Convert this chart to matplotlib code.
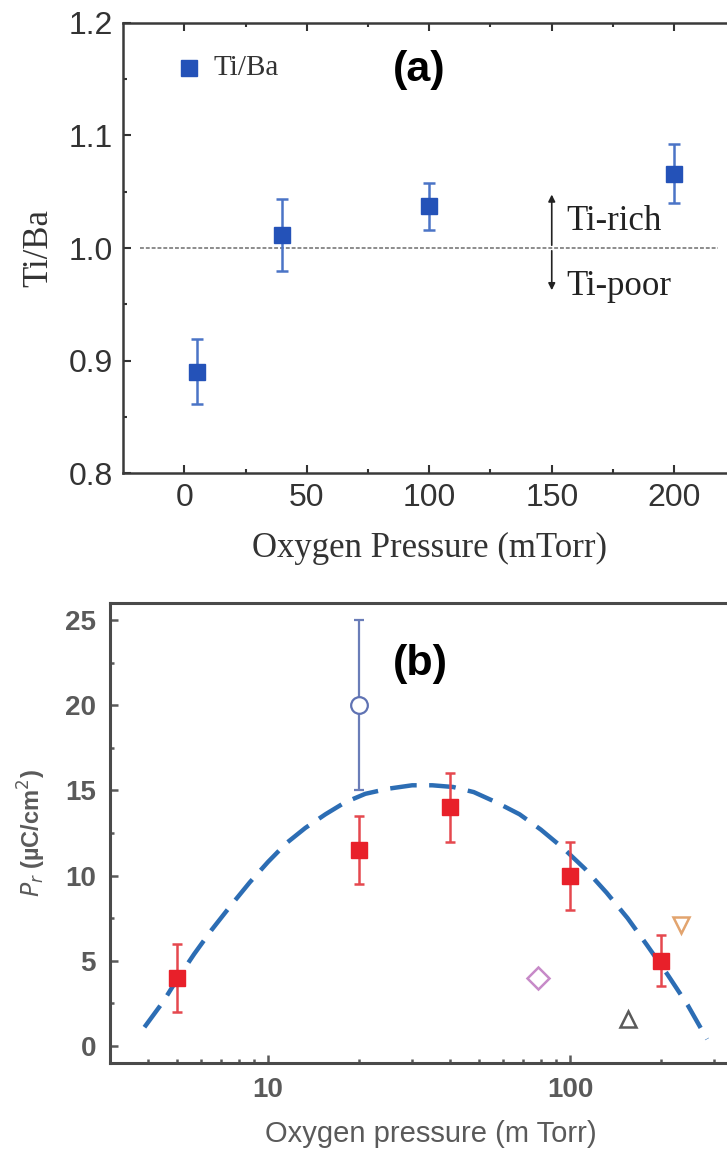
import matplotlib.pyplot as plt

# (a) Ti/Ba ratio vs oxygen pressure
tiba_pressure = [5, 40, 100, 200]
tiba_ratio = [0.890, 1.012, 1.037, 1.066]
tiba_err = [0.029, 0.032, 0.021, 0.026]

# (b) remanent polarization vs oxygen pressure
pr_pressure = [5, 20, 40, 100, 200]
pr_value = [4.0, 11.5, 14.0, 10.0, 5.0]
pr_err = [2.0, 2.0, 2.0, 2.0, 1.5]

lit_circle = (20, 20.0, 5.0)
lit_diamond = (78, 4.0)
lit_triangle_up = (155, 1.6)
lit_triangle_down = (233, 7.1)

# dashed guide curve, read along its length
fit_x = [3.9, 4.5, 5, 5.7, 6.5, 7.5, 8.7, 10, 11.5, 13.3, 15.5, 18, 21, 25, 30, 35,
         41, 48, 57, 68, 80, 95, 112, 132, 155, 180, 210, 245, 284]
fit_y = [1.1, 2.6, 3.9, 5.4, 6.8, 8.2, 9.6, 10.8, 11.9, 12.8, 13.6, 14.3, 14.8,
         15.1, 15.3, 15.3, 15.2, 14.9, 14.3, 13.6, 12.7, 11.6, 10.4, 9.0, 7.5,
         5.9, 4.2, 2.4, 0.4]

W, H = 727, 1151
fig = plt.figure(figsize=(W / 100, H / 100), dpi=100)

serif = ["Liberation Serif", "DejaVu Serif"]
sans = ["Liberation Sans", "DejaVu Sans"]

# ---------------- panel (a) ----------------
ax1 = fig.add_axes([123 / W, 1 - 473 / H, 612.5 / W, 450 / H])
ax1.set_xlim(-25, 225)
ax1.set_ylim(0.8, 1.2)
ax1.set_xticks([0, 50, 100, 150, 200])
ax1.set_xticks([25, 75, 125, 175], minor=True)
ax1.set_yticks([0.8, 0.9, 1.0, 1.1, 1.2])
ax1.set_yticks([0.85, 0.95, 1.05, 1.15], minor=True)
ax1.set_yticklabels(["0.8", "0.9", "1.0", "1.1", "1.2"])
ax1.tick_params(which="both", direction="in", top=True, right=False,
                labelsize=23, colors="#333333", width=1.5, pad=7)
ax1.tick_params(which="major", length=6)
ax1.tick_params(which="minor", length=3)
for lab in ax1.get_xticklabels() + ax1.get_yticklabels():
    lab.set_family(sans)
for side in ("left", "bottom", "top"):
    ax1.spines[side].set_linewidth(1.8)
    ax1.spines[side].set_color("#3a3a3a")
ax1.spines["right"].set_visible(False)

ax1.plot([-18, 218], [1.0, 1.0], color="#8c8c8c", lw=1.4, ls=(0, (2, 1)), zorder=1)
ax1.errorbar(tiba_pressure, tiba_ratio, yerr=tiba_err, fmt="s", color="#2452b8",
             ecolor="#4b74c6", elinewidth=1.8, capsize=4, capthick=1.8,
             markersize=12, zorder=3)
ax1.plot([2], [1.16], "s", color="#2452b8", markersize=11)
ax1.text(12, 1.16, "Ti/Ba", family=serif, fontsize=21, color="#333333",
         va="center", ha="left")
ax1.text(96, 1.158, "(a)", family=sans, fontsize=31, fontweight="bold",
         ha="center", va="center")

ax1.annotate("", xy=(150, 1.05), xytext=(150, 1.0),
             arrowprops=dict(arrowstyle="-|>", color="#222222", lw=1.2,
                             mutation_scale=10))
ax1.annotate("", xy=(150, 0.96), xytext=(150, 1.0),
             arrowprops=dict(arrowstyle="-|>", color="#222222", lw=1.2,
                             mutation_scale=10))
ax1.text(156, 1.024, "Ti-rich", family=serif, fontsize=25, color="#222222",
         va="center", ha="left")
ax1.text(156, 0.966, "Ti-poor", family=serif, fontsize=25, color="#222222",
         va="center", ha="left")

ax1.set_xlabel("Oxygen Pressure (mTorr)", family=serif, fontsize=25,
               color="#333333", labelpad=14)
ax1.set_ylabel("Ti/Ba", family=serif, fontsize=25, color="#333333", labelpad=10)

# ---------------- panel (b) ----------------
ax2 = fig.add_axes([110 / W, 1 - 1063 / H, 642 / W, 460 / H])
ax2.set_xscale("log")
ax2.set_xlim(3, 400)
ax2.set_ylim(-1, 26)
ax2.set_yticks([0, 5, 10, 15, 20, 25])
ax2.set_yticks([2.5, 7.5, 12.5, 17.5, 22.5], minor=True)
ax2.set_xticks([10, 100])
ax2.set_xticklabels(["10", "100"])
ax2.tick_params(which="both", direction="in", top=False, right=False,
                labelsize=20, colors="#5a5a5a", width=1.8, pad=10)
ax2.tick_params(which="major", length=6)
ax2.tick_params(which="minor", length=3)
for lab in ax2.get_xticklabels() + ax2.get_yticklabels():
    lab.set_family(sans)
    lab.set_fontweight("bold")
for side in ("left", "bottom", "top"):
    ax2.spines[side].set_linewidth(2.2)
    ax2.spines[side].set_color("#4a4a4a")
ax2.spines["right"].set_visible(False)

ax2.plot(fit_x, fit_y, color="#2c6db4", lw=3.2, ls=(0, (6, 2.8)), zorder=2)
ax2.errorbar(pr_pressure, pr_value, yerr=pr_err, fmt="s", color="#e8202a",
             ecolor="#e5484e", elinewidth=1.8, capsize=3.5, capthick=1.8,
             markersize=11.5, zorder=3)
ax2.errorbar([lit_circle[0]], [lit_circle[1]], yerr=[lit_circle[2]], fmt="o",
             mfc="white", mec="#5f72b3", mew=1.6, ecolor="#6a7db8",
             elinewidth=1.6, capsize=3.5, capthick=1.6, markersize=12, zorder=3)
ax2.plot([lit_diamond[0]], [lit_diamond[1]], "D", mfc="none", mec="#c78ac8",
         mew=1.8, markersize=11)
ax2.plot([lit_triangle_up[0]], [lit_triangle_up[1]], "^", mfc="none",
         mec="#5a5a5a", mew=1.8, markersize=12)
ax2.plot([lit_triangle_down[0]], [lit_triangle_down[1]], "v", mfc="none",
         mec="#e2a46e", mew=1.8, markersize=12)

ax2.text(32, 22.4, "(b)", family=sans, fontsize=31, fontweight="bold",
         ha="center", va="center")
ax2.set_xlabel("Oxygen pressure (m Torr)", family=sans, fontsize=21,
               color="#5a5a5a", labelpad=12)
ax2.set_ylabel(r"$P_r$ (µC/cm$^2$)", family=sans, fontsize=17,
               fontweight="bold", color="#5a5a5a", labelpad=12)

fig.savefig("out.png", dpi=100)
